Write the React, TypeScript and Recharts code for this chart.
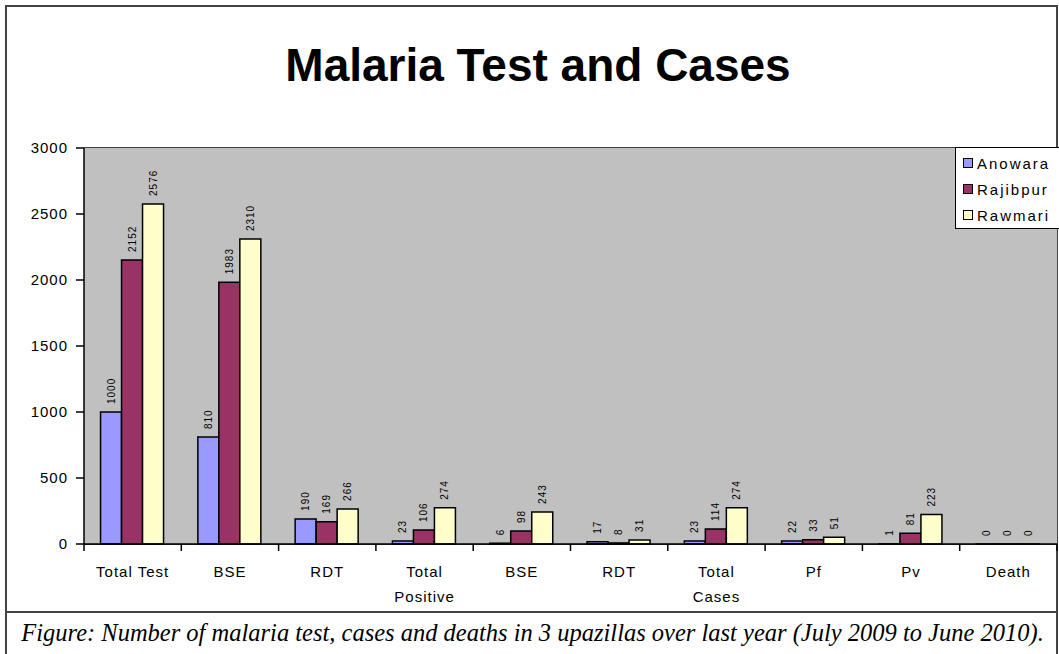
import React from 'react';
import { BarChart, Bar, XAxis, YAxis, CartesianGrid, LabelList } from 'recharts';

const categories = ['Total Test', 'BSE', 'RDT', 'Total\nPositive', 'BSE', 'RDT', 'Total\nCases', 'Pf', 'Pv', 'Death'];
const anowara = [1000, 810, 190, 23, 6, 17, 23, 22, 1, 0];
const rajibpur = [2152, 1983, 169, 106, 98, 8, 114, 33, 81, 0];
const rawmari = [2576, 2310, 266, 274, 243, 31, 274, 51, 223, 0];
const yTicks = [0, 500, 1000, 1500, 2000, 2500, 3000];

const seriesNames = ['Anowara', 'Rajibpur', 'Rawmari'];
const COLORS = ['#9999FF', '#993366', '#FFFFCC'];

const FONT = '"Liberation Sans", Arial, sans-serif';
const W = 1059;
const H = 610;
const PLOT_LEFT = 84;
const PLOT_RIGHT = 1057;

const data = categories.map((name, i) => ({
  name,
  Anowara: anowara[i],
  Rajibpur: rajibpur[i],
  Rawmari: rawmari[i],
}));

const step = (PLOT_RIGHT - PLOT_LEFT) / categories.length;

const CategoryTick = (props: any) => {
  const { x, y, payload, index } = props;
  const lines = String(payload.value).split('\n');
  return (
    <g>
      <line x1={x - step / 2} x2={x - step / 2} y1={y} y2={y + 7} stroke="#000" strokeWidth={1.5} />
      {index === categories.length - 1 && (
        <line x1={x + step / 2} x2={x + step / 2} y1={y} y2={y + 7} stroke="#000" strokeWidth={1.5} />
      )}
      {lines.map((l, i) => (
        <text key={i} x={x} y={y + 33 + i * 25} textAnchor="middle" fontSize={15} letterSpacing={1}
          fontFamily={FONT} fill="#000">
          {l}
        </text>
      ))}
    </g>
  );
};

const ValueLabel = (props: any) => {
  const { x, y, width, height, value } = props;
  const cx = x + width / 2;
  const top = height < 0 ? y + height : y;
  const ty = top - 8;
  return (
    <text x={cx} y={ty} transform={`rotate(-90 ${cx} ${ty})`} textAnchor="start" dominantBaseline="central"
      fontSize={10} letterSpacing={1} fontFamily={FONT} fill="#000">
      {String(value)}
    </text>
  );
};

export default function App() {
  return (
    <div style={{ position: 'absolute', left: 0, top: 0, width: W, height: 654, background: '#fff', overflow: 'hidden' }}>
      <div style={{ position: 'absolute', left: 5, top: 5, width: 1049, height: 604, border: '2px solid #444' }} />
      <div style={{ position: 'absolute', left: 5, top: 610, width: 1049, height: 50, borderLeft: '2px solid #444', borderRight: '2px solid #444' }} />
      <div style={{ position: 'absolute', left: 0, top: 0 }}>
        <BarChart width={W} height={H} data={data} margin={{ top: 148, right: W - PLOT_RIGHT, bottom: 6, left: 0 }}
          barCategoryGap="17%" barGap={0}>
          <text x={538} y={81} textAnchor="middle" fontSize={46} fontWeight="bold" fontFamily={FONT} fill="#000">
            Malaria Test and Cases
          </text>
          <rect x={PLOT_LEFT} y={148} width={PLOT_RIGHT - PLOT_LEFT} height={396} fill="#C0C0C0" />
          <CartesianGrid vertical={false} stroke="#000" strokeWidth={1.5} />
          <XAxis dataKey="name" height={60} tickLine={false} tickSize={0} tickMargin={0} interval={0}
            axisLine={{ stroke: '#000', strokeWidth: 1.5 }} tick={<CategoryTick />} />
          <YAxis width={PLOT_LEFT} domain={[0, 3000]} ticks={yTicks} tickSize={8} tickMargin={8}
            axisLine={{ stroke: '#000', strokeWidth: 1.5 }} tickLine={{ stroke: '#000', strokeWidth: 1.5 }}
            tick={{ fontSize: 15, letterSpacing: 1, fontFamily: FONT, fill: '#000' }} />
          {seriesNames.map((s, i) => (
            <Bar key={s} dataKey={s} fill={COLORS[i]} stroke="#000" strokeWidth={1.5} minPointSize={0.01}
              isAnimationActive={false}>
              <LabelList dataKey={s} content={<ValueLabel />} />
            </Bar>
          ))}
        </BarChart>
      </div>
      <div style={{ position: 'absolute', left: 955, top: 147, width: 110, height: 82, background: '#fff', border: '1.5px solid #000', boxSizing: 'border-box', fontFamily: FONT, fontSize: 15, letterSpacing: 2 }}>
        {seriesNames.map((s, i) => (
          <div key={s} style={{ position: 'absolute', left: 7, top: 5 + i * 26, height: 20, display: 'flex', alignItems: 'center', whiteSpace: 'nowrap' }}>
            <span style={{ display: 'inline-block', width: 8, height: 8, background: COLORS[i], border: '1.5px solid #000', marginRight: 4 }} />
            <span>{s}</span>
          </div>
        ))}
      </div>
      <div style={{ position: 'absolute', left: 8, top: 619, width: W - 10, textAlign: 'center', fontFamily: '"Liberation Serif", "Times New Roman", serif', fontStyle: 'italic', fontSize: 24.5, whiteSpace: 'nowrap' }}>
        Figure: Number of malaria test, cases and deaths in 3 upazillas over last year (July 2009 to June 2010).
      </div>
    </div>
  );
}
